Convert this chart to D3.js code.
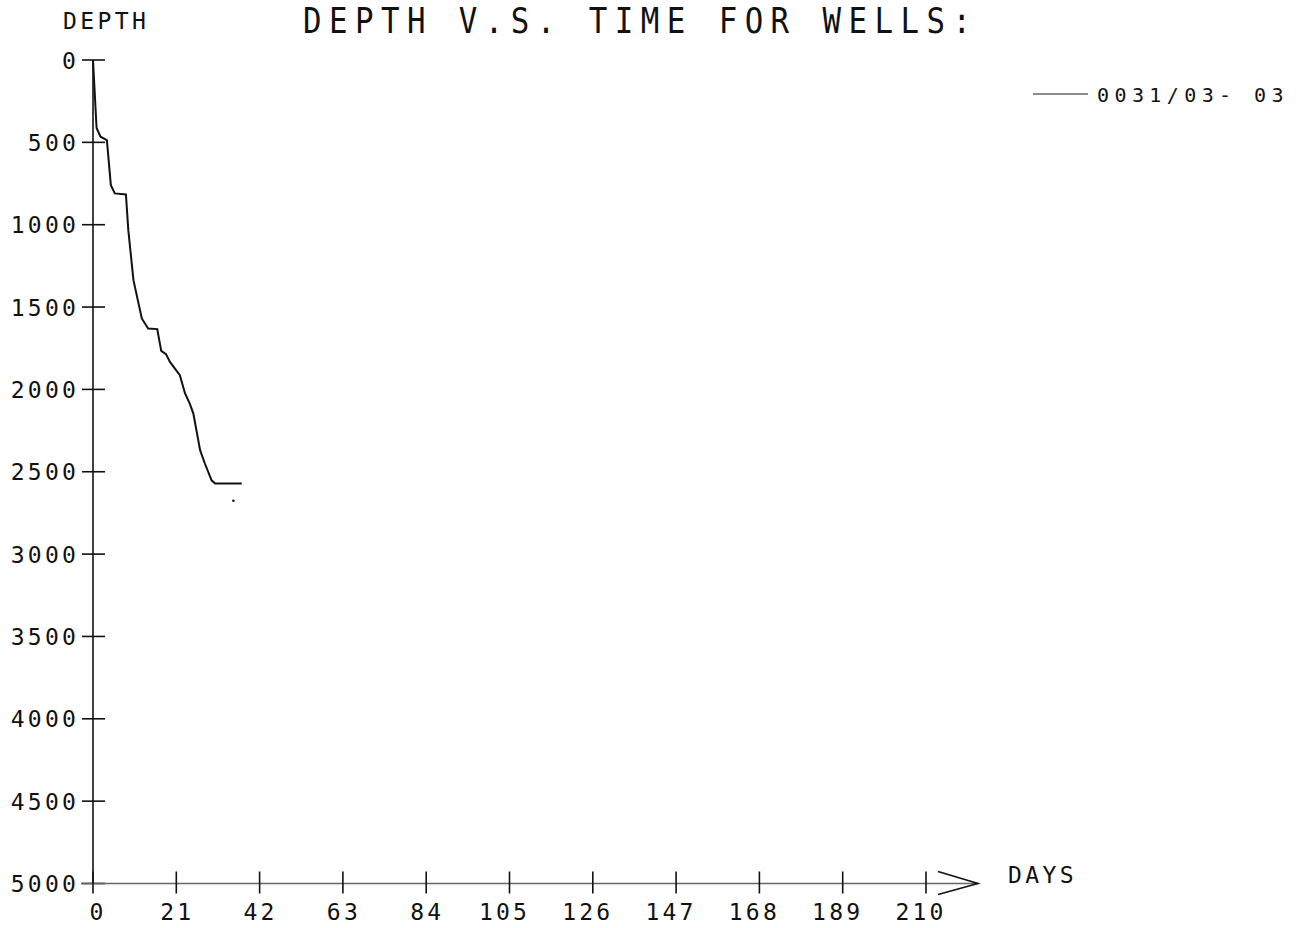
<!DOCTYPE html>
<html>
<head>
<meta charset="utf-8">
<script src="https://cdn.jsdelivr.net/npm/d3@7"></script>
<style>
  body { margin: 0; background: #fff; }
  text { font-family: "DejaVu Sans Mono", monospace; fill: #111; }
</style>
</head>
<body>
<script>
// well 0031/03- 03, depth against days
let days  = [0, 0.9, 1.9, 3.5, 4.5, 5.5, 8.3, 8.9, 10.2, 12.3, 13.9, 16.2, 17.2, 18.4, 19.4, 21.9, 23.2, 24.4, 25.3, 27.0, 28.2, 29.9, 30.8, 37.5];
let depth = [0, 413, 466, 486, 760, 810, 816, 1033, 1337, 1569, 1630, 1634, 1766, 1786, 1833, 1914, 2025, 2086, 2147, 2369, 2450, 2552, 2572, 2572];
let dotDays  = [35.4];
let dotDepth = [2676];
let xTicks = [0, 21, 42, 63, 84, 105, 126, 147, 168, 189, 210];
let yTicks = [0, 500, 1000, 1500, 2000, 2500, 3000, 3500, 4000, 4500, 5000];
let wellName = "0031/03- 03";
let titleText = "DEPTH V.S. TIME FOR WELLS:";

var W = 1297, H = 928;
let svg = d3.select("body").append("svg")
  .attr("width", W)
  .attr("height", H);

let x = d3.scaleLinear().domain([0, 210]).range([93, 926]);
let y = d3.scaleLinear().domain([0, 5000]).range([60, 883.5]);

// title: tall narrow plotter lettering
let sx = 0.88;
svg.append("text")
  .attr("x", 303 / sx)
  .attr("y", 33.5)
  .attr("transform", "scale(" + sx + ",1)")
  .style("font-size", "35px")
  .style("font-weight", "300")
  .attr("textLength", 668 / sx)
  .attr("lengthAdjust", "spacing")
  .text(titleText);

svg.append("text")
  .attr("x", 63).attr("y", 29)
  .style("font-size", "23px")
  .style("letter-spacing", "3.4px")
  .text("DEPTH");

// y axis
svg.append("line")
  .attr("x1", x(0)).attr("x2", x(0))
  .attr("y1", y(0)).attr("y2", y(5000))
  .attr("stroke", "#111").attr("stroke-width", 1.6);

let gy = svg.append("g");
gy.selectAll("line").data(yTicks).enter().append("line")
  .attr("x1", x(0) - 11).attr("x2", x(0) + 12)
  .attr("y1", d => y(d)).attr("y2", d => y(d))
  .attr("stroke", "#111").attr("stroke-width", 1.6);
gy.selectAll("text").data(yTicks).enter().append("text")
  .attr("x", 79)
  .attr("y", d => y(d) + 8.5)
  .attr("text-anchor", "end")
  .style("font-size", "23px")
  .style("letter-spacing", "3.2px")
  .text(d => d);

// x axis with arrow head
svg.append("line")
  .attr("x1", x(0) - 12).attr("x2", 978)
  .attr("y1", y(5000)).attr("y2", y(5000))
  .attr("stroke", "#666").attr("stroke-width", 1.6);
svg.append("path")
  .attr("d", "M938," + (y(5000) - 12) + "L978," + y(5000) + "L938," + (y(5000) + 11))
  .attr("fill", "none").attr("stroke", "#111").attr("stroke-width", 1.6);

let gx = svg.append("g");
gx.selectAll("line").data(xTicks).enter().append("line")
  .attr("x1", d => x(d)).attr("x2", d => x(d))
  .attr("y1", y(5000) - 12).attr("y2", y(5000) + 10)
  .attr("stroke", "#111").attr("stroke-width", 1.6);
gx.selectAll("text").data(xTicks).enter().append("text")
  .attr("x", d => x(d))
  .attr("dx", d => (String(d).length == 1 ? 5 : String(d).length == 3 ? -5 : 1))
  .attr("y", 920)
  .attr("text-anchor", "middle")
  .style("font-size", "23px")
  .style("letter-spacing", "3.2px")
  .text(d => d);

svg.append("text")
  .attr("x", 1008).attr("y", 883)
  .style("font-size", "23px")
  .style("letter-spacing", "3.4px")
  .text("DAYS");

// the well curve
let pts = days.map((d, i) => [d, depth[i]]);
let line = d3.line()
  .x(d => x(d[0]))
  .y(d => y(d[1]));
svg.append("path")
  .datum(pts)
  .attr("d", line)
  .attr("fill", "none")
  .attr("stroke", "#111")
  .attr("stroke-width", 2);

svg.selectAll("circle.dot").data(dotDays).enter().append("circle")
  .attr("class", "dot")
  .attr("cx", d => x(d))
  .attr("cy", (d, i) => y(dotDepth[i]))
  .attr("r", 1.3)
  .attr("fill", "#111");

// legend
svg.append("line")
  .attr("x1", 1033).attr("x2", 1088)
  .attr("y1", 94).attr("y2", 94)
  .attr("stroke", "#666").attr("stroke-width", 1.6);
svg.append("text")
  .attr("x", 1097).attr("y", 102)
  .style("font-size", "20px")
  .style("letter-spacing", "5.4px")
  .text(wellName);
</script>
</body>
</html>
